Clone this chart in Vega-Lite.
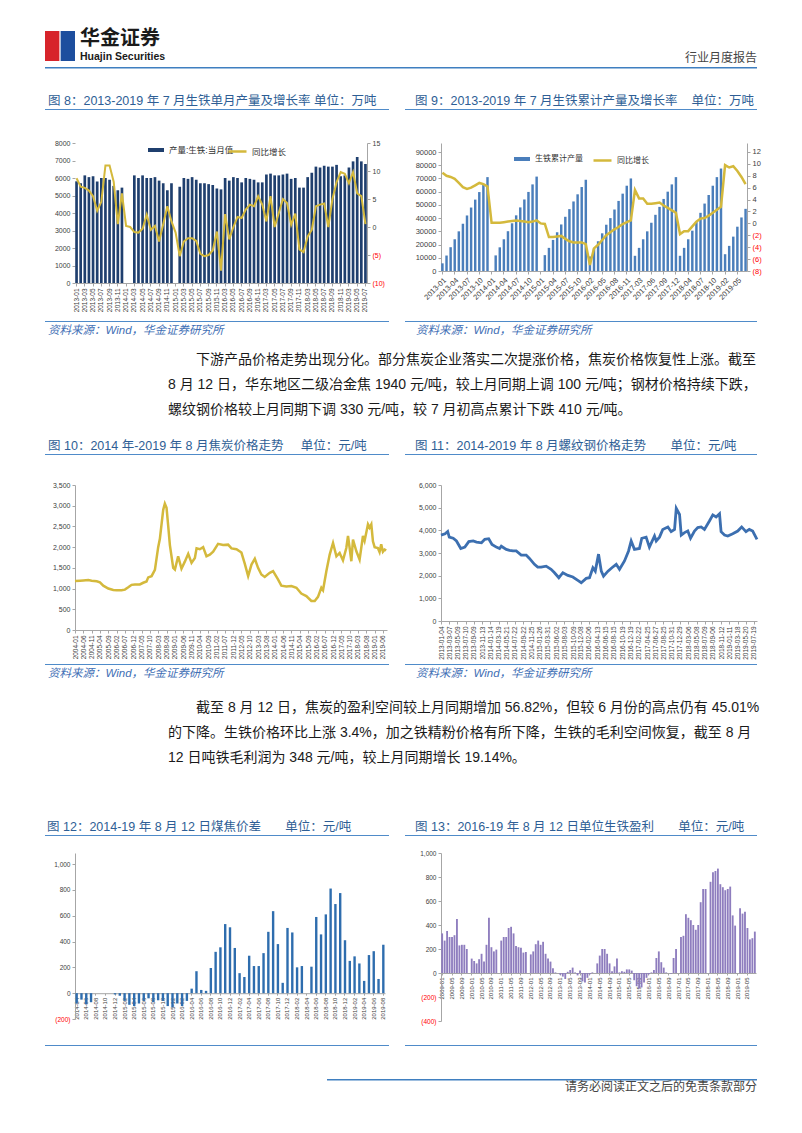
{
 "$schema": "https://vega.github.io/schema/vega-lite/v6.json",
 "padding": {"left": 45, "top": 25, "right": 5, "bottom": 5},
 "background": "white",
 "columns": 6,
 "spacing": 0,
 "bounds": "flush",
 "align": "each",
 "resolve": {"scale": {"color": "independent", "fill": "independent", "stroke": "independent"}, "legend": {"color": "independent", "fill": "independent", "stroke": "independent"}},
 "config": {
  "font": "Liberation Sans, Noto Sans CJK SC",
  "view": {"stroke": null},
  "axis": {"grid": false, "labelColor": "#404040", "domainColor": "#A6A6A6", "tickColor": "#A6A6A6", "labelOverlap": false, "labelFlush": false, "tickSize": 3, "labelFont": "Liberation Sans, Noto Sans CJK SC"},
  "title": {"font": "Liberation Sans, Noto Sans CJK SC", "fontWeight": "normal", "anchor": "start", "frame": "group", "color": "#2E5E95", "fontSize": 12.5, "limit": 760},
  "legend": {"labelFont": "Liberation Sans, Noto Sans CJK SC"}
 },
 "datasets": {
  "ds8": [
   {"m":"2013-01","p":5810,"g":8.7},{"m":"2013-02","p":5700,"g":7.2},{"m":"2013-03","p":6150,"g":7.0},{"m":"2013-04","p":6050,"g":6.5},{"m":"2013-05","p":6100,"g":5.5},{"m":"2013-06","p":5800,"g":2.9},{"m":"2013-07","p":6000,"g":4.5},{"m":"2013-08","p":6000,"g":11.0},{"m":"2013-09","p":5900,"g":11.0},{"m":"2013-10","p":5550,"g":8.1},{"m":"2013-11","p":5300,"g":0.5},{"m":"2013-12","p":5450,"g":6.0},
   {"m":"2014-01","p":0,"g":0.2},{"m":"2014-02","p":0,"g":0.0},{"m":"2014-03","p":6150,"g":-0.9},{"m":"2014-04","p":6000,"g":-1.0},{"m":"2014-05","p":6150,"g":-0.3},{"m":"2014-06","p":6000,"g":2.2},{"m":"2014-07","p":6000,"g":-0.5},{"m":"2014-08","p":6050,"g":0.2},{"m":"2014-09","p":5850,"g":-2.6},{"m":"2014-10","p":5700,"g":0.5},{"m":"2014-11","p":5300,"g":3.7},{"m":"2014-12","p":5700,"g":1.0},
   {"m":"2015-01","p":0,"g":-1.0},{"m":"2015-02","p":5500,"g":-5.2},{"m":"2015-03","p":6000,"g":-2.6},{"m":"2015-04","p":5950,"g":-2.0},{"m":"2015-05","p":6050,"g":-2.0},{"m":"2015-06","p":5900,"g":-2.5},{"m":"2015-07","p":5700,"g":-4.8},{"m":"2015-08","p":5700,"g":-5.2},{"m":"2015-09","p":5650,"g":-5.0},{"m":"2015-10","p":5600,"g":-4.2},{"m":"2015-11","p":5400,"g":-0.8},{"m":"2015-12","p":5350,"g":-7.8},
   {"m":"2016-03","p":6000,"g":2.3},{"m":"2016-04","p":5850,"g":-2.2},{"m":"2016-05","p":6050,"g":0.0},{"m":"2016-06","p":6000,"g":1.8},{"m":"2016-07","p":5750,"g":1.6},{"m":"2016-08","p":6000,"g":3.1},{"m":"2016-09","p":5950,"g":4.0},{"m":"2016-10","p":5900,"g":3.7},{"m":"2016-11","p":5750,"g":5.5},{"m":"2016-12","p":5750,"g":4.0},
   {"m":"2017-03","p":6200,"g":1.0},{"m":"2017-04","p":6250,"g":5.5},{"m":"2017-05","p":6150,"g":0.0},{"m":"2017-06","p":6150,"g":2.5},{"m":"2017-07","p":6200,"g":5.0},{"m":"2017-08","p":6250,"g":4.3},{"m":"2017-09","p":5950,"g":0.4},{"m":"2017-10","p":6000,"g":2.4},{"m":"2017-11","p":5450,"g":-4.0},{"m":"2017-12","p":5450,"g":-4.5},
   {"m":"2018-03","p":6050,"g":-1.7},{"m":"2018-04","p":6300,"g":-0.5},{"m":"2018-05","p":6650,"g":3.7},{"m":"2018-06","p":6600,"g":4.0},{"m":"2018-07","p":6700,"g":4.2},{"m":"2018-08","p":6650,"g":0.0},{"m":"2018-09","p":6650,"g":5.0},{"m":"2018-10","p":6750,"g":8.0},{"m":"2018-11","p":6100,"g":9.8},{"m":"2018-12","p":6150,"g":9.5},
   {"m":"2019-03","p":6600,"g":7.8},{"m":"2019-04","p":6950,"g":9.8},{"m":"2019-05","p":7200,"g":6.0},{"m":"2019-06","p":6950,"g":5.5},{"m":"2019-07","p":6800,"g":0.5}
  ],
  "ds9": [
   {"m":"2013-01","p":5800,"g":8.5},{"m":"2013-02","p":11700,"g":8.0},{"m":"2013-03","p":18000,"g":7.8},{"m":"2013-04","p":24000,"g":7.5},{"m":"2013-05","p":30000,"g":6.8},{"m":"2013-06","p":35800,"g":6.1},{"m":"2013-07","p":42000,"g":5.8},{"m":"2013-08","p":48000,"g":6.0},{"m":"2013-09","p":54000,"g":6.4},{"m":"2013-10","p":59700,"g":6.8},{"m":"2013-11","p":65000,"g":6.6},{"m":"2013-12","p":71000,"g":6.2},
   {"m":"2014-01","p":0,"g":0.1},{"m":"2014-02","p":11800,"g":0.1},{"m":"2014-03","p":17900,"g":0.1},{"m":"2014-04","p":24000,"g":0.2},{"m":"2014-05","p":30100,"g":0.3},{"m":"2014-06","p":36100,"g":0.4},{"m":"2014-07","p":42100,"g":0.5},{"m":"2014-08","p":48100,"g":0.4},{"m":"2014-09","p":54100,"g":0.3},{"m":"2014-10","p":59800,"g":0.2},{"m":"2014-11","p":65500,"g":0.3},{"m":"2014-12","p":71400,"g":0.5},
   {"m":"2015-01","p":0,"g":0.0},{"m":"2015-02","p":12000,"g":-0.1},{"m":"2015-03","p":17500,"g":-2.3},{"m":"2015-04","p":23500,"g":-2.3},{"m":"2015-05","p":29300,"g":-2.2},{"m":"2015-06","p":35200,"g":-2.1},{"m":"2015-07","p":41000,"g":-2.6},{"m":"2015-08","p":46800,"g":-3.0},{"m":"2015-09","p":52600,"g":-3.2},{"m":"2015-10","p":58000,"g":-3.2},{"m":"2015-11","p":63500,"g":-3.2},{"m":"2015-12","p":69000,"g":-3.5},
   {"m":"2016-02","p":11000,"g":-7.0},{"m":"2016-03","p":17000,"g":-4.2},{"m":"2016-04","p":22500,"g":-3.6},{"m":"2016-05","p":28500,"g":-2.8},{"m":"2016-06","p":35000,"g":-2.0},{"m":"2016-07","p":40000,"g":-1.5},{"m":"2016-08","p":46500,"g":-1.0},{"m":"2016-09","p":53000,"g":-0.6},{"m":"2016-10","p":58500,"g":-0.1},{"m":"2016-11","p":64500,"g":0.2},{"m":"2016-12","p":70000,"g":0.5},
   {"m":"2017-02","p":11500,"g":5.6},{"m":"2017-03","p":17500,"g":4.2},{"m":"2017-04","p":24000,"g":4.2},{"m":"2017-05","p":30000,"g":3.3},{"m":"2017-06","p":36500,"g":3.3},{"m":"2017-07","p":42500,"g":3.4},{"m":"2017-08","p":48500,"g":3.5},{"m":"2017-09","p":54500,"g":3.0},{"m":"2017-10","p":60000,"g":2.6},{"m":"2017-11","p":65500,"g":2.2},{"m":"2017-12","p":71000,"g":1.8},
   {"m":"2018-02","p":11500,"g":-1.8},{"m":"2018-03","p":17500,"g":-1.3},{"m":"2018-04","p":24000,"g":-1.3},{"m":"2018-05","p":30500,"g":-0.5},{"m":"2018-06","p":37000,"g":0.3},{"m":"2018-07","p":44000,"g":0.8},{"m":"2018-08","p":51000,"g":0.9},{"m":"2018-09","p":57500,"g":1.3},{"m":"2018-10","p":64500,"g":1.8},{"m":"2018-11","p":71000,"g":2.3},{"m":"2018-12","p":77500,"g":2.8},
   {"m":"2019-02","p":12700,"g":9.8},{"m":"2019-03","p":19000,"g":9.4},{"m":"2019-04","p":26000,"g":9.6},{"m":"2019-05","p":33500,"g":8.8},{"m":"2019-06","p":40500,"g":7.8},{"m":"2019-07","p":47000,"g":6.6}
  ],
  "ds10": [
   {"d":"2004-01-01","v":1180},{"d":"2004-04-01","v":1190},{"d":"2004-06-01","v":1195},{"d":"2004-09-01","v":1205},{"d":"2004-11-01","v":1190},{"d":"2005-02-01","v":1175},{"d":"2005-04-01","v":1150},{"d":"2005-06-01","v":1070},{"d":"2005-09-01","v":1000},{"d":"2005-12-01","v":965},{"d":"2006-02-01","v":960},{"d":"2006-05-01","v":960},{"d":"2006-07-01","v":975},{"d":"2006-09-01","v":1030},{"d":"2006-11-01","v":1090},{"d":"2007-01-01","v":1100},{"d":"2007-04-01","v":1100},{"d":"2007-06-01","v":1140},{"d":"2007-08-01","v":1170},{"d":"2007-09-01","v":1270},{"d":"2007-11-01","v":1300},{"d":"2008-01-01","v":1450},{"d":"2008-03-01","v":2000},{"d":"2008-04-01","v":2200},{"d":"2008-06-01","v":2900},{"d":"2008-07-01","v":3050},{"d":"2008-08-01","v":2950},{"d":"2008-09-01","v":2500},{"d":"2008-10-01","v":2050},{"d":"2008-12-01","v":1500},{"d":"2009-01-01","v":1460},{"d":"2009-03-01","v":1780},{"d":"2009-05-01","v":1480},{"d":"2009-07-01","v":1650},{"d":"2009-09-01","v":1840},{"d":"2009-11-01","v":1620},{"d":"2010-01-01","v":1740},{"d":"2010-02-01","v":1970},{"d":"2010-04-01","v":1950},{"d":"2010-06-01","v":2000},{"d":"2010-08-01","v":1780},{"d":"2010-10-01","v":1820},{"d":"2010-12-01","v":1890},{"d":"2011-03-01","v":2080},{"d":"2011-06-01","v":2050},{"d":"2011-09-01","v":2060},{"d":"2011-11-01","v":1970},{"d":"2012-02-01","v":1950},{"d":"2012-05-01","v":1870},{"d":"2012-07-01","v":1600},{"d":"2012-09-01","v":1300},{"d":"2012-11-01","v":1580},{"d":"2013-01-01","v":1720},{"d":"2013-03-01","v":1500},{"d":"2013-05-01","v":1340},{"d":"2013-07-01","v":1280},{"d":"2013-10-01","v":1380},{"d":"2013-12-01","v":1420},{"d":"2014-03-01","v":1220},{"d":"2014-05-01","v":1070},{"d":"2014-08-01","v":1050},{"d":"2014-11-01","v":1060},{"d":"2015-02-01","v":1020},{"d":"2015-05-01","v":880},{"d":"2015-08-01","v":820},{"d":"2015-11-01","v":700},{"d":"2016-01-01","v":700},{"d":"2016-03-01","v":800},{"d":"2016-05-01","v":1020},{"d":"2016-06-01","v":960},{"d":"2016-08-01","v":1420},{"d":"2016-10-01","v":1820},{"d":"2016-12-01","v":2100},{"d":"2017-02-01","v":1780},{"d":"2017-04-01","v":1860},{"d":"2017-06-01","v":1680},{"d":"2017-08-01","v":1980},{"d":"2017-09-01","v":2270},{"d":"2017-10-01","v":1980},{"d":"2017-11-01","v":1660},{"d":"2017-12-01","v":2180},{"d":"2018-02-01","v":1900},{"d":"2018-04-01","v":1700},{"d":"2018-06-01","v":2270},{"d":"2018-07-01","v":2150},{"d":"2018-09-01","v":2550},{"d":"2018-10-01","v":2470},{"d":"2018-11-01","v":2550},{"d":"2018-12-01","v":2140},{"d":"2019-01-01","v":2000},{"d":"2019-03-01","v":1980},{"d":"2019-04-01","v":1880},{"d":"2019-05-01","v":2070},{"d":"2019-06-01","v":1890},{"d":"2019-07-01","v":1940},{"d":"2019-08-01","v":1920}
  ],
  "ds11": [
   {"d":"2013-01-04","v":3790},{"d":"2013-02-04","v":3850},{"d":"2013-02-24","v":3950},{"d":"2013-03-08","v":3700},{"d":"2013-04-07","v":3650},{"d":"2013-05-02","v":3530},{"d":"2013-06-04","v":3200},{"d":"2013-07-05","v":3260},{"d":"2013-08-04","v":3500},{"d":"2013-09-07","v":3530},{"d":"2013-10-02","v":3480},{"d":"2013-11-09","v":3450},{"d":"2013-12-04","v":3600},{"d":"2014-01-03","v":3630},{"d":"2014-01-28","v":3380},{"d":"2014-03-02","v":3260},{"d":"2014-03-27","v":3200},{"d":"2014-04-09","v":3300},{"d":"2014-05-17","v":3160},{"d":"2014-06-11","v":3120},{"d":"2014-07-07","v":3090},{"d":"2014-08-01","v":3090},{"d":"2014-09-08","v":2910},{"d":"2014-10-16","v":2910},{"d":"2014-11-10","v":2760},{"d":"2014-12-18","v":2500},{"d":"2015-01-12","v":2380},{"d":"2015-02-07","v":2380},{"d":"2015-03-17","v":2420},{"d":"2015-04-24","v":2280},{"d":"2015-05-20","v":2130},{"d":"2015-06-22","v":1910},{"d":"2015-07-23","v":2130},{"d":"2015-08-30","v":2010},{"d":"2015-10-07","v":1940},{"d":"2015-11-14","v":1790},{"d":"2015-12-10","v":1690},{"d":"2016-01-17","v":1880},{"d":"2016-02-11","v":1910},{"d":"2016-03-08","v":2350},{"d":"2016-03-26","v":2200},{"d":"2016-04-20","v":2950},{"d":"2016-05-11","v":2200},{"d":"2016-05-28","v":1980},{"d":"2016-07-01","v":2200},{"d":"2016-07-31","v":2350},{"d":"2016-09-02","v":2500},{"d":"2016-09-27","v":2280},{"d":"2016-11-04","v":2650},{"d":"2016-12-05","v":3090},{"d":"2016-12-25","v":3530},{"d":"2017-01-19","v":3160},{"d":"2017-02-26","v":3200},{"d":"2017-03-16","v":3650},{"d":"2017-04-18","v":3700},{"d":"2017-05-13","v":3260},{"d":"2017-06-21","v":3750},{"d":"2017-07-04","v":3530},{"d":"2017-07-29","v":3700},{"d":"2017-08-23","v":4040},{"d":"2017-10-01","v":4150},{"d":"2017-10-26","v":3940},{"d":"2017-11-21","v":4040},{"d":"2017-12-04","v":4970},{"d":"2017-12-29","v":4700},{"d":"2018-01-11","v":3790},{"d":"2018-02-05","v":3900},{"d":"2018-03-02","v":3970},{"d":"2018-03-23","v":3650},{"d":"2018-04-22","v":3970},{"d":"2018-05-17","v":4120},{"d":"2018-06-12","v":4150},{"d":"2018-07-07","v":4040},{"d":"2018-08-14","v":4410},{"d":"2018-09-09","v":4680},{"d":"2018-10-04","v":4590},{"d":"2018-10-30","v":4730},{"d":"2018-11-11","v":3940},{"d":"2018-12-07","v":3790},{"d":"2019-01-01","v":3750},{"d":"2019-02-08","v":3850},{"d":"2019-03-18","v":3970},{"d":"2019-04-17","v":4150},{"d":"2019-05-20","v":3940},{"d":"2019-06-14","v":4040},{"d":"2019-07-10","v":3970},{"d":"2019-08-12","v":3600}
  ],
  "ds12": [
   {"m":"2014-04","v":-80},{"m":"2014-05","v":-50},{"m":"2014-06","v":-85},{"m":"2014-07","v":-70},{"m":"2014-08","v":0},{"m":"2014-09","v":0},{"m":"2014-10","v":0},{"m":"2014-11","v":0},{"m":"2014-12","v":-10},
   {"m":"2015-01","v":-20},{"m":"2015-02","v":-60},{"m":"2015-03","v":-90},{"m":"2015-04","v":-100},{"m":"2015-05","v":-80},{"m":"2015-06","v":-60},{"m":"2015-07","v":-40},{"m":"2015-08","v":-70},{"m":"2015-09","v":-55},{"m":"2015-10","v":-60},{"m":"2015-11","v":-100},{"m":"2015-12","v":-110},
   {"m":"2016-01","v":-80},{"m":"2016-02","v":-100},{"m":"2016-03","v":-60},{"m":"2016-04","v":35},{"m":"2016-05","v":170},{"m":"2016-06","v":25},{"m":"2016-07","v":18},{"m":"2016-08","v":195},{"m":"2016-09","v":320},{"m":"2016-10","v":355},{"m":"2016-11","v":535},{"m":"2016-12","v":510},
   {"m":"2017-01","v":350},{"m":"2017-02","v":155},{"m":"2017-03","v":125},{"m":"2017-04","v":290},{"m":"2017-05","v":210},{"m":"2017-06","v":210},{"m":"2017-07","v":310},{"m":"2017-08","v":475},{"m":"2017-09","v":635},{"m":"2017-10","v":380},{"m":"2017-11","v":80},{"m":"2017-12","v":505},
   {"m":"2018-01","v":470},{"m":"2018-02","v":200},{"m":"2018-03","v":210},{"m":"2018-04","v":0},{"m":"2018-05","v":205},{"m":"2018-06","v":590},{"m":"2018-07","v":455},{"m":"2018-08","v":610},{"m":"2018-09","v":810},{"m":"2018-10","v":690},{"m":"2018-11","v":775},{"m":"2018-12","v":410},
   {"m":"2019-01","v":250},{"m":"2019-02","v":285},{"m":"2019-03","v":230},{"m":"2019-04","v":95},{"m":"2019-05","v":295},{"m":"2019-06","v":325},{"m":"2019-07","v":110},{"m":"2019-08","v":375}
  ],
  "ds13": [
   {"m":"2009-01","v":330},{"m":"2009-02","v":270},{"m":"2009-03","v":350},{"m":"2009-04","v":300},{"m":"2009-05","v":300},{"m":"2009-06","v":315},{"m":"2009-07","v":450},{"m":"2009-08","v":230},{"m":"2009-09","v":235},{"m":"2009-10","v":235},{"m":"2009-11","v":200},{"m":"2009-12","v":0},
   {"m":"2010-01","v":120},{"m":"2010-02","v":100},{"m":"2010-03","v":80},{"m":"2010-04","v":115},{"m":"2010-05","v":160},{"m":"2010-06","v":95},{"m":"2010-07","v":235},{"m":"2010-08","v":460},{"m":"2010-09","v":215},{"m":"2010-10","v":180},{"m":"2010-11","v":195},{"m":"2010-12","v":0},
   {"m":"2011-01","v":270},{"m":"2011-02","v":300},{"m":"2011-03","v":300},{"m":"2011-04","v":375},{"m":"2011-05","v":385},{"m":"2011-06","v":330},{"m":"2011-07","v":225},{"m":"2011-08","v":215},{"m":"2011-09","v":210},{"m":"2011-10","v":170},{"m":"2011-11","v":175},{"m":"2011-12","v":0},
   {"m":"2012-01","v":155},{"m":"2012-02","v":180},{"m":"2012-03","v":240},{"m":"2012-04","v":270},{"m":"2012-05","v":235},{"m":"2012-06","v":260},{"m":"2012-07","v":160},{"m":"2012-08","v":120},{"m":"2012-09","v":95},{"m":"2012-10","v":40},{"m":"2012-11","v":5},{"m":"2012-12","v":0},
   {"m":"2013-01","v":-15},{"m":"2013-02","v":-30},{"m":"2013-03","v":-50},{"m":"2013-04","v":10},{"m":"2013-05","v":25},{"m":"2013-06","v":45},{"m":"2013-07","v":5},{"m":"2013-08","v":-20},{"m":"2013-09","v":20},{"m":"2013-10","v":-70},{"m":"2013-11","v":-80},{"m":"2013-12","v":-40},
   {"m":"2014-01","v":-10},{"m":"2014-02","v":5},{"m":"2014-03","v":0},{"m":"2014-04","v":80},{"m":"2014-05","v":145},{"m":"2014-06","v":200},{"m":"2014-07","v":200},{"m":"2014-08","v":160},{"m":"2014-09","v":80},{"m":"2014-10","v":15},{"m":"2014-11","v":55},{"m":"2014-12","v":120},
   {"m":"2015-01","v":5},{"m":"2015-02","v":15},{"m":"2015-03","v":10},{"m":"2015-04","v":30},{"m":"2015-05","v":30},{"m":"2015-06","v":20},{"m":"2015-07","v":-60},{"m":"2015-08","v":-110},{"m":"2015-09","v":-130},{"m":"2015-10","v":-120},{"m":"2015-11","v":-80},{"m":"2015-12","v":-40},
   {"m":"2016-01","v":-10},{"m":"2016-02","v":5},{"m":"2016-03","v":25},{"m":"2016-04","v":125},{"m":"2016-05","v":180},{"m":"2016-06","v":90},{"m":"2016-07","v":45},{"m":"2016-08","v":5},{"m":"2016-09","v":0},{"m":"2016-10","v":-5},{"m":"2016-11","v":125},{"m":"2016-12","v":200},
   {"m":"2017-01","v":0},{"m":"2017-02","v":300},{"m":"2017-03","v":310},{"m":"2017-04","v":490},{"m":"2017-05","v":460},{"m":"2017-06","v":440},{"m":"2017-07","v":400},{"m":"2017-08","v":360},{"m":"2017-09","v":400},{"m":"2017-10","v":590},{"m":"2017-11","v":700},{"m":"2017-12","v":700},
   {"m":"2018-01","v":0},{"m":"2018-02","v":760},{"m":"2018-03","v":840},{"m":"2018-04","v":850},{"m":"2018-05","v":870},{"m":"2018-06","v":740},{"m":"2018-07","v":715},{"m":"2018-08","v":690},{"m":"2018-09","v":700},{"m":"2018-10","v":720},{"m":"2018-11","v":480},{"m":"2018-12","v":395},
   {"m":"2019-01","v":0},{"m":"2019-02","v":540},{"m":"2019-03","v":495},{"m":"2019-04","v":510},{"m":"2019-05","v":375},{"m":"2019-06","v":280},{"m":"2019-07","v":290},{"m":"2019-08","v":345}
  ]
 },
 "concat": [
  {"width": 30, "height": 30, "data": {"values": [{"k": "a"}, {"k": "b"}]},
   "mark": {"type": "bar"},
   "encoding": {
    "x": {"field": "k", "type": "nominal", "axis": null, "scale": {"paddingInner": 0.08, "paddingOuter": 0}},
    "color": {"field": "k", "type": "nominal", "legend": null, "scale": {"range": ["#D7242B", "#1D4E9E"]}}
   },
   "title": {"text": "华金证券", "subtitle": "Huajin Securities", "dx": 35, "offset": -31, "fontSize": 20, "fontWeight": "bold", "color": "#1A1A1A", "font": "Noto Sans CJK SC", "subtitleFont": "Liberation Sans", "subtitleFontSize": 10.5, "subtitleFontWeight": "bold", "subtitleColor": "#1A1A1A", "subtitlePadding": 3}
  },
  {"width": 1, "height": 1, "data": {"values": [{}]}, "mark": {"type": "text", "text": ""}},
  {"width": 1, "height": 1, "data": {"values": [{}]}, "mark": {"type": "text", "text": ""}},
  {"width": 1, "height": 1, "data": {"values": [{}]}, "mark": {"type": "text", "text": ""}},
  {"width": 1, "height": 1, "data": {"values": [{}]}, "mark": {"type": "text", "text": ""}},
  {"width": 1, "height": 36, "data": {"values": [{}]}, "mark": {"type": "text", "text": ""}},

  {"width": 30, "height": 1.5, "data": {"values": [{}]}, "mark": {"type": "text", "text": ""}, "view": {"fill": "#3F7FC0", "stroke": null}},
  {"width": 314, "height": 1.5, "data": {"values": [{}]}, "mark": {"type": "text", "text": ""}, "view": {"fill": "#3F7FC0", "stroke": null}},
  {"width": 16, "height": 1.5, "data": {"values": [{}]}, "mark": {"type": "text", "text": ""}, "view": {"fill": "#3F7FC0", "stroke": null}},
  {"width": 36, "height": 1.5, "data": {"values": [{}]}, "mark": {"type": "text", "text": ""}, "view": {"fill": "#3F7FC0", "stroke": null}},
  {"width": 316, "height": 1.5, "data": {"values": [{}]}, "mark": {"type": "text", "text": ""}, "view": {"fill": "#3F7FC0", "stroke": null},
   "title": {"text": "行业月度报告", "anchor": "end", "offset": -3, "fontSize": 12, "color": "#444444"}},
  {"width": 1, "height": 42, "data": {"values": [{}]}, "mark": {"type": "text", "text": ""}},

  {"width": 30, "height": 1, "data": {"values": [{}]}, "mark": {"type": "text", "text": ""}, "view": {"fill": "#4F8BC9", "stroke": null},
   "title": {"text": "图 8：2013-2019 年 7 月生铁单月产量及增长率 单位：万吨", "dx": 3, "offset": -4}},
  {"width": 314, "height": 1, "data": {"values": [{}]}, "mark": {"type": "text", "text": ""}, "view": {"fill": "#4F8BC9", "stroke": null}},
  {"width": 1, "height": 1, "data": {"values": [{}]}, "mark": {"type": "text", "text": ""}},
  {"width": 36, "height": 1, "data": {"values": [{}]}, "mark": {"type": "text", "text": ""}, "view": {"fill": "#4F8BC9", "stroke": null},
   "title": {"text": "图 9：2013-2019 年 7 月生铁累计产量及增长率\u00a0\u00a0\u00a0\u00a0单位：万吨", "dx": 10, "offset": -4}},
  {"width": 316, "height": 1, "data": {"values": [{}]}, "mark": {"type": "text", "text": ""}, "view": {"fill": "#4F8BC9", "stroke": null}},
  {"width": 1, "height": 34, "data": {"values": [{}]}, "mark": {"type": "text", "text": ""}},

  {"width": 1, "height": 1, "data": {"values": [{}]}, "mark": {"type": "text", "text": ""}},
  {"width": 292, "height": 140, "data": {"name": "ds8"},
   "layer": [
    {"mark": {"type": "bar"},
     "encoding": {
      "x": {"field": "m", "type": "ordinal", "sort": null, "scale": {"paddingInner": 0.35, "paddingOuter": 0.05},
            "axis": {"title": null, "labelAngle": -90, "labelFontSize": 6.5, "labelPadding": 2,
                     "values": ["2013-01","2013-03","2013-05","2013-07","2013-09","2013-11","2014-01","2014-03","2014-05","2014-07","2014-09","2014-11","2015-01","2015-03","2015-05","2015-07","2015-09","2015-11","2016-03","2016-05","2016-07","2016-09","2016-11","2017-03","2017-05","2017-07","2017-09","2017-11","2018-03","2018-05","2018-07","2018-09","2018-11","2019-03","2019-05","2019-07"]}},
      "y": {"field": "p", "type": "quantitative", "scale": {"domain": [0, 8000], "nice": false},
            "axis": {"title": null, "values": [0,1000,2000,3000,4000,5000,6000,7000,8000], "format": "d", "labelFontSize": 7, "domain": false}},
      "fill": {"datum": "产量:生铁:当月值", "scale": {"range": ["#1F3F6E"]},
               "legend": {"orient": "none", "legendX": 72, "legendY": -2, "title": null, "symbolType": "M-1,-0.25H1V0.25H-1Z", "symbolSize": 256, "labelFontSize": 8.5, "labelColor": "#333333", "padding": 0}}
     }},
    {"mark": {"type": "line", "strokeWidth": 2},
     "encoding": {
      "x": {"field": "m", "type": "ordinal", "sort": null},
      "y": {"field": "g", "type": "quantitative", "scale": {"domain": [-10, 15], "nice": false},
            "axis": {"title": null, "orient": "right", "values": [-10,-5,0,5,10,15], "labelFontSize": 7,
                     "labelExpr": "datum.value < 0 ? '(' + format(-datum.value, 'd') + ')' : format(datum.value, 'd')",
                     "labelColor": {"condition": {"test": "datum.value < 0", "value": "#FF0000"}, "value": "#404040"}}},
      "stroke": {"datum": "同比增长", "scale": {"range": ["#D4B93C"]},
                 "legend": {"orient": "none", "legendX": 152, "legendY": -2, "title": null, "symbolType": "stroke", "symbolSize": 324, "symbolStrokeWidth": 2.5, "labelFontSize": 8.5, "labelColor": "#333333", "padding": 0}}
     }}
   ],
   "resolve": {"scale": {"y": "independent"}}
  },
  {"width": 1, "height": 1, "data": {"values": [{}]}, "mark": {"type": "text", "text": ""}},
  {"width": 1, "height": 1, "data": {"values": [{}]}, "mark": {"type": "text", "text": ""}},
  {"width": 306, "height": 128, "data": {"name": "ds9"},
   "layer": [
    {"mark": {"type": "bar"},
     "encoding": {
      "x": {"field": "m", "type": "ordinal", "sort": null, "scale": {"paddingInner": 0.4, "paddingOuter": 0.05},
            "axis": {"title": null, "labelAngle": -45, "labelFontSize": 7.5, "labelPadding": 2,
                     "values": ["2013-01","2013-04","2013-07","2013-10","2014-01","2014-04","2014-07","2014-10","2015-01","2015-04","2015-07","2015-10","2016-02","2016-05","2016-08","2016-11","2017-03","2017-06","2017-09","2017-12","2018-04","2018-07","2018-10","2019-02","2019-05"]}},
      "y": {"field": "p", "type": "quantitative", "scale": {"domain": [0, 96807], "nice": false},
            "axis": {"title": null, "values": [0,10000,20000,30000,40000,50000,60000,70000,80000,90000], "format": "d", "labelFontSize": 7.5}},
      "fill": {"datum": "生铁累计产量", "scale": {"range": ["#4A7EBB"]},
               "legend": {"orient": "none", "legendX": 72, "legendY": 7, "title": null, "symbolType": "M-1,-0.25H1V0.25H-1Z", "symbolSize": 256, "labelFontSize": 8, "labelColor": "#333333", "padding": 0}}
     }},
    {"mark": {"type": "line", "strokeWidth": 2.5},
     "encoding": {
      "x": {"field": "m", "type": "ordinal", "sort": null},
      "y": {"field": "g", "type": "quantitative", "scale": {"domain": [-8, 13.51], "nice": false},
            "axis": {"title": null, "orient": "right", "values": [-8,-6,-4,-2,0,2,4,6,8,10,12], "labelFontSize": 7.5,
                     "labelExpr": "datum.value < 0 ? '(' + format(-datum.value, 'd') + ')' : format(datum.value, 'd')",
                     "labelColor": {"condition": {"test": "datum.value < 0", "value": "#FF0000"}, "value": "#404040"}}},
      "stroke": {"datum": "同比增长", "scale": {"range": ["#D4B93C"]},
                 "legend": {"orient": "none", "legendX": 151, "legendY": 7, "title": null, "symbolType": "stroke", "symbolSize": 324, "symbolStrokeWidth": 2.5, "labelFontSize": 8, "labelColor": "#333333", "padding": 0}}
     }}
   ],
   "resolve": {"scale": {"y": "independent"}}
  },
  {"width": 1, "height": 178, "data": {"values": [{}]}, "mark": {"type": "text", "text": ""}},

  {"width": 30, "height": 1, "data": {"values": [{}]}, "mark": {"type": "text", "text": ""}, "view": {"fill": "#4F8BC9", "stroke": null},
   "title": {"text": "资料来源：Wind，华金证券研究所", "orient": "bottom", "baseline": "top", "dx": 3, "offset": -2, "fontStyle": "italic", "color": "#3F6FB5", "fontSize": 11.5}},
  {"width": 314, "height": 1, "data": {"values": [{}]}, "mark": {"type": "text", "text": ""}, "view": {"fill": "#4F8BC9", "stroke": null}},
  {"width": 1, "height": 1, "data": {"values": [{}]}, "mark": {"type": "text", "text": ""}},
  {"width": 36, "height": 1, "data": {"values": [{}]}, "mark": {"type": "text", "text": ""}, "view": {"fill": "#4F8BC9", "stroke": null},
   "title": {"text": "资料来源：Wind，华金证券研究所", "orient": "bottom", "baseline": "top", "dx": 11, "offset": -2, "fontStyle": "italic", "color": "#3F6FB5", "fontSize": 11.5}},
  {"width": 316, "height": 1, "data": {"values": [{}]}, "mark": {"type": "text", "text": ""}, "view": {"fill": "#4F8BC9", "stroke": null}},
  {"width": 1, "height": 26, "data": {"values": [{}]}, "mark": {"type": "text", "text": ""}},

  {"width": 30, "height": 1, "data": {"values": [{}]}, "mark": {"type": "text", "text": ""},
   "title": {"text": "下游产品价格走势出现分化。部分焦炭企业落实二次提涨价格，焦炭价格恢复性上涨。截至", "orient": "bottom", "baseline": "top", "dx": 151, "offset": 0, "fontSize": 14, "color": "#1A1A1A"}},
  {"width": 1, "height": 1, "data": {"values": [{}]}, "mark": {"type": "text", "text": ""}},
  {"width": 1, "height": 1, "data": {"values": [{}]}, "mark": {"type": "text", "text": ""}},
  {"width": 1, "height": 1, "data": {"values": [{}]}, "mark": {"type": "text", "text": ""}},
  {"width": 1, "height": 1, "data": {"values": [{}]}, "mark": {"type": "text", "text": ""}},
  {"width": 1, "height": 25, "data": {"values": [{}]}, "mark": {"type": "text", "text": ""}},

  {"width": 30, "height": 1, "data": {"values": [{}]}, "mark": {"type": "text", "text": ""},
   "title": {"text": ["8 月 12 日，华东地区二级冶金焦 1940 元/吨，较上月同期上调 100 元/吨；钢材价格持续下跌，", "螺纹钢价格较上月同期下调 330 元/吨，较 7 月初高点累计下跌 410 元/吨。"],
             "orient": "bottom", "baseline": "top", "dx": 123, "offset": 0, "lineHeight": 25, "fontSize": 14, "color": "#1A1A1A"}},
  {"width": 1, "height": 1, "data": {"values": [{}]}, "mark": {"type": "text", "text": ""}},
  {"width": 1, "height": 1, "data": {"values": [{}]}, "mark": {"type": "text", "text": ""}},
  {"width": 1, "height": 1, "data": {"values": [{}]}, "mark": {"type": "text", "text": ""}},
  {"width": 1, "height": 1, "data": {"values": [{}]}, "mark": {"type": "text", "text": ""}},
  {"width": 1, "height": 82, "data": {"values": [{}]}, "mark": {"type": "text", "text": ""}},

  {"width": 30, "height": 1, "data": {"values": [{}]}, "mark": {"type": "text", "text": ""}, "view": {"fill": "#4F8BC9", "stroke": null},
   "title": {"text": "图 10：2014 年-2019 年 8 月焦炭价格走势\u00a0\u00a0\u00a0\u00a0\u00a0单位：元/吨", "dx": 3, "offset": -4}},
  {"width": 314, "height": 1, "data": {"values": [{}]}, "mark": {"type": "text", "text": ""}, "view": {"fill": "#4F8BC9", "stroke": null}},
  {"width": 1, "height": 1, "data": {"values": [{}]}, "mark": {"type": "text", "text": ""}},
  {"width": 36, "height": 1, "data": {"values": [{}]}, "mark": {"type": "text", "text": ""}, "view": {"fill": "#4F8BC9", "stroke": null},
   "title": {"text": "图 11：2014-2019 年 8 月螺纹钢价格走势\u00a0\u00a0\u00a0\u00a0\u00a0\u00a0\u00a0单位：元/吨", "dx": 10, "offset": -4}},
  {"width": 316, "height": 1, "data": {"values": [{}]}, "mark": {"type": "text", "text": ""}, "view": {"fill": "#4F8BC9", "stroke": null}},
  {"width": 1, "height": 31, "data": {"values": [{}]}, "mark": {"type": "text", "text": ""}},

  {"width": 1, "height": 1, "data": {"values": [{}]}, "mark": {"type": "text", "text": ""}},
  {"width": 312, "height": 145, "data": {"name": "ds10"},
   "mark": {"type": "line", "strokeWidth": 2.5, "color": "#D4B93C"},
   "encoding": {
    "x": {"field": "d", "type": "temporal",
          "scale": {"type": "utc", "domain": [{"year":2004,"month":1,"date":1,"utc":true},{"year":2019,"month":8,"date":15,"utc":true}]},
          "axis": {"title": null, "format": "%Y-%m", "labelAngle": -90, "labelFontSize": 6.5, "labelPadding": 2,
                   "values": [{"year":2004,"month":1,"date":1,"utc":true},{"year":2004,"month":6,"date":1,"utc":true},{"year":2004,"month":11,"date":1,"utc":true},{"year":2005,"month":4,"date":1,"utc":true},{"year":2005,"month":9,"date":1,"utc":true},{"year":2006,"month":2,"date":1,"utc":true},{"year":2006,"month":7,"date":1,"utc":true},{"year":2006,"month":12,"date":1,"utc":true},{"year":2007,"month":5,"date":1,"utc":true},{"year":2007,"month":10,"date":1,"utc":true},{"year":2008,"month":3,"date":1,"utc":true},{"year":2008,"month":8,"date":1,"utc":true},{"year":2009,"month":1,"date":1,"utc":true},{"year":2009,"month":6,"date":1,"utc":true},{"year":2009,"month":11,"date":1,"utc":true},{"year":2010,"month":4,"date":1,"utc":true},{"year":2010,"month":9,"date":1,"utc":true},{"year":2011,"month":2,"date":1,"utc":true},{"year":2011,"month":7,"date":1,"utc":true},{"year":2011,"month":12,"date":1,"utc":true},{"year":2012,"month":5,"date":1,"utc":true},{"year":2012,"month":10,"date":1,"utc":true},{"year":2013,"month":3,"date":1,"utc":true},{"year":2013,"month":8,"date":1,"utc":true},{"year":2014,"month":1,"date":1,"utc":true},{"year":2014,"month":6,"date":1,"utc":true},{"year":2014,"month":11,"date":1,"utc":true},{"year":2015,"month":4,"date":1,"utc":true},{"year":2015,"month":9,"date":1,"utc":true},{"year":2016,"month":2,"date":1,"utc":true},{"year":2016,"month":7,"date":1,"utc":true},{"year":2016,"month":12,"date":1,"utc":true},{"year":2017,"month":5,"date":1,"utc":true},{"year":2017,"month":10,"date":1,"utc":true},{"year":2018,"month":3,"date":1,"utc":true},{"year":2018,"month":8,"date":1,"utc":true},{"year":2019,"month":1,"date":1,"utc":true},{"year":2019,"month":6,"date":1,"utc":true}]}},
    "y": {"field": "v", "type": "quantitative", "scale": {"domain": [0, 3500], "nice": false},
          "axis": {"title": null, "values": [0,500,1000,1500,2000,2500,3000,3500], "labelExpr": "format(datum.value, ',')", "labelFontSize": 7}}
   }
  },
  {"width": 1, "height": 1, "data": {"values": [{}]}, "mark": {"type": "text", "text": ""}},
  {"width": 1, "height": 1, "data": {"values": [{}]}, "mark": {"type": "text", "text": ""}},
  {"width": 316, "height": 136, "data": {"name": "ds11"},
   "mark": {"type": "line", "strokeWidth": 2.8, "color": "#3C6FB0"},
   "encoding": {
    "x": {"field": "d", "type": "temporal",
          "scale": {"type": "utc", "domain": [{"year":2013,"month":1,"date":4,"utc":true},{"year":2019,"month":8,"date":12,"utc":true}]},
          "axis": {"title": null, "format": "%Y-%m-%d", "labelAngle": -90, "labelFontSize": 6.5, "labelPadding": 2,
                   "values": [{"year":2013,"month":1,"date":4,"utc":true},{"year":2013,"month":3,"date":7,"utc":true},{"year":2013,"month":5,"date":9,"utc":true},{"year":2013,"month":7,"date":10,"utc":true},{"year":2013,"month":9,"date":9,"utc":true},{"year":2013,"month":11,"date":13,"utc":true},{"year":2014,"month":1,"date":14,"utc":true},{"year":2014,"month":3,"date":19,"utc":true},{"year":2014,"month":5,"date":21,"utc":true},{"year":2014,"month":7,"date":22,"utc":true},{"year":2014,"month":9,"date":22,"utc":true},{"year":2014,"month":11,"date":25,"utc":true},{"year":2015,"month":1,"date":26,"utc":true},{"year":2015,"month":3,"date":31,"utc":true},{"year":2015,"month":6,"date":2,"utc":true},{"year":2015,"month":8,"date":3,"utc":true},{"year":2015,"month":10,"date":9,"utc":true},{"year":2015,"month":12,"date":8,"utc":true},{"year":2016,"month":2,"date":6,"utc":true},{"year":2016,"month":4,"date":13,"utc":true},{"year":2016,"month":6,"date":15,"utc":true},{"year":2016,"month":8,"date":15,"utc":true},{"year":2016,"month":10,"date":19,"utc":true},{"year":2016,"month":12,"date":19,"utc":true},{"year":2017,"month":2,"date":22,"utc":true},{"year":2017,"month":4,"date":25,"utc":true},{"year":2017,"month":6,"date":27,"utc":true},{"year":2017,"month":8,"date":25,"utc":true},{"year":2017,"month":10,"date":31,"utc":true},{"year":2017,"month":12,"date":29,"utc":true},{"year":2018,"month":3,"date":6,"utc":true},{"year":2018,"month":5,"date":8,"utc":true},{"year":2018,"month":7,"date":9,"utc":true},{"year":2018,"month":9,"date":6,"utc":true},{"year":2018,"month":11,"date":12,"utc":true},{"year":2019,"month":1,"date":11,"utc":true},{"year":2019,"month":3,"date":18,"utc":true},{"year":2019,"month":5,"date":20,"utc":true},{"year":2019,"month":7,"date":19,"utc":true}]}},
    "y": {"field": "v", "type": "quantitative", "scale": {"domain": [0, 6000], "nice": false},
          "axis": {"title": null, "values": [0,1000,2000,3000,4000,5000,6000], "labelExpr": "format(datum.value, ',')", "labelFontSize": 7}}
   }
  },
  {"width": 1, "height": 179, "data": {"values": [{}]}, "mark": {"type": "text", "text": ""}},

  {"width": 30, "height": 1, "data": {"values": [{}]}, "mark": {"type": "text", "text": ""}, "view": {"fill": "#4F8BC9", "stroke": null},
   "title": {"text": "资料来源：Wind，华金证券研究所", "orient": "bottom", "baseline": "top", "dx": 3, "offset": -2, "fontStyle": "italic", "color": "#3F6FB5", "fontSize": 11.5}},
  {"width": 314, "height": 1, "data": {"values": [{}]}, "mark": {"type": "text", "text": ""}, "view": {"fill": "#4F8BC9", "stroke": null}},
  {"width": 1, "height": 1, "data": {"values": [{}]}, "mark": {"type": "text", "text": ""}},
  {"width": 36, "height": 1, "data": {"values": [{}]}, "mark": {"type": "text", "text": ""}, "view": {"fill": "#4F8BC9", "stroke": null},
   "title": {"text": "资料来源：Wind，华金证券研究所", "orient": "bottom", "baseline": "top", "dx": 11, "offset": -2, "fontStyle": "italic", "color": "#3F6FB5", "fontSize": 11.5}},
  {"width": 316, "height": 1, "data": {"values": [{}]}, "mark": {"type": "text", "text": ""}, "view": {"fill": "#4F8BC9", "stroke": null}},
  {"width": 1, "height": 31, "data": {"values": [{}]}, "mark": {"type": "text", "text": ""}},

  {"width": 30, "height": 1, "data": {"values": [{}]}, "mark": {"type": "text", "text": ""},
   "title": {"text": "截至 8 月 12 日，焦炭的盈利空间较上月同期增加 56.82%，但较 6 月份的高点仍有 45.01%", "orient": "bottom", "baseline": "top", "dx": 151, "offset": 0, "fontSize": 14, "color": "#1A1A1A"}},
  {"width": 1, "height": 1, "data": {"values": [{}]}, "mark": {"type": "text", "text": ""}},
  {"width": 1, "height": 1, "data": {"values": [{}]}, "mark": {"type": "text", "text": ""}},
  {"width": 1, "height": 1, "data": {"values": [{}]}, "mark": {"type": "text", "text": ""}},
  {"width": 1, "height": 1, "data": {"values": [{}]}, "mark": {"type": "text", "text": ""}},
  {"width": 1, "height": 25, "data": {"values": [{}]}, "mark": {"type": "text", "text": ""}},

  {"width": 30, "height": 1, "data": {"values": [{}]}, "mark": {"type": "text", "text": ""},
   "title": {"text": ["的下降。生铁价格环比上涨 3.4%，加之铁精粉价格有所下降，生铁的毛利空间恢复，截至 8 月", "12 日吨铁毛利润为 348 元/吨，较上月同期增长 19.14%。"],
             "orient": "bottom", "baseline": "top", "dx": 123, "offset": 0, "lineHeight": 25, "fontSize": 14, "color": "#1A1A1A"}},
  {"width": 1, "height": 1, "data": {"values": [{}]}, "mark": {"type": "text", "text": ""}},
  {"width": 1, "height": 1, "data": {"values": [{}]}, "mark": {"type": "text", "text": ""}},
  {"width": 1, "height": 1, "data": {"values": [{}]}, "mark": {"type": "text", "text": ""}},
  {"width": 1, "height": 1, "data": {"values": [{}]}, "mark": {"type": "text", "text": ""}},
  {"width": 1, "height": 115, "data": {"values": [{}]}, "mark": {"type": "text", "text": ""}},

  {"width": 30, "height": 1, "data": {"values": [{}]}, "mark": {"type": "text", "text": ""}, "view": {"fill": "#4F8BC9", "stroke": null},
   "title": {"text": "图 12：2014-19 年 8 月 12 日煤焦价差\u00a0\u00a0\u00a0\u00a0\u00a0\u00a0\u00a0单位：元/吨", "dx": 2, "offset": -4}},
  {"width": 314, "height": 1, "data": {"values": [{}]}, "mark": {"type": "text", "text": ""}, "view": {"fill": "#4F8BC9", "stroke": null}},
  {"width": 1, "height": 1, "data": {"values": [{}]}, "mark": {"type": "text", "text": ""}},
  {"width": 36, "height": 1, "data": {"values": [{}]}, "mark": {"type": "text", "text": ""}, "view": {"fill": "#4F8BC9", "stroke": null},
   "title": {"text": "图 13：2016-19 年 8 月 12 日单位生铁盈利\u00a0\u00a0\u00a0\u00a0\u00a0\u00a0\u00a0单位：元/吨", "dx": 10, "offset": -4}},
  {"width": 316, "height": 1, "data": {"values": [{}]}, "mark": {"type": "text", "text": ""}, "view": {"fill": "#4F8BC9", "stroke": null}},
  {"width": 1, "height": 18, "data": {"values": [{}]}, "mark": {"type": "text", "text": ""}},

  {"width": 1, "height": 1, "data": {"values": [{}]}, "mark": {"type": "text", "text": ""}},
  {"width": 310, "height": 166, "data": {"name": "ds12"},
   "mark": {"type": "bar", "color": "#2E6DAE"},
   "encoding": {
    "x": {"field": "m", "type": "ordinal", "sort": null, "scale": {"paddingInner": 0.5, "paddingOuter": 0.1},
          "axis": {"title": null, "labelAngle": -90, "labelFontSize": 6, "labelPadding": 2, "offset": -25.8, "tickSize": 2,
                   "values": ["2014-04","2014-06","2014-08","2014-10","2014-12","2015-02","2015-04","2015-06","2015-08","2015-10","2015-12","2016-02","2016-04","2016-06","2016-08","2016-10","2016-12","2017-02","2017-04","2017-06","2017-08","2017-10","2017-12","2018-02","2018-04","2018-06","2018-08","2018-10","2018-12","2019-02","2019-04","2019-06","2019-08"]}},
    "y": {"field": "v", "type": "quantitative", "scale": {"domain": [-200, 1085.2], "nice": false},
          "axis": {"title": null, "values": [-200,0,200,400,600,800,1000], "labelFontSize": 6.5,
                   "labelExpr": "datum.value < 0 ? '(' + format(-datum.value, ',') + ')' : format(datum.value, ',')",
                   "labelColor": {"condition": {"test": "datum.value < 0", "value": "#FF0000"}, "value": "#404040"}}}
   }
  },
  {"width": 1, "height": 1, "data": {"values": [{}]}, "mark": {"type": "text", "text": ""}},
  {"width": 1, "height": 1, "data": {"values": [{}]}, "mark": {"type": "text", "text": ""}},
  {"width": 315, "height": 168, "data": {"name": "ds13"},
   "mark": {"type": "bar", "color": "#8E7DBE"},
   "encoding": {
    "x": {"field": "m", "type": "ordinal", "sort": null, "scale": {"paddingInner": 0.25, "paddingOuter": 0.1},
          "axis": {"title": null, "labelAngle": -90, "labelFontSize": 6, "labelPadding": 2, "offset": -48, "tickSize": 2,
                   "values": ["2009-01","2009-05","2009-09","2010-01","2010-05","2010-09","2011-01","2011-05","2011-09","2012-01","2012-05","2012-09","2013-01","2013-05","2013-09","2014-01","2014-05","2014-09","2015-01","2015-05","2015-09","2016-01","2016-05","2016-09","2017-01","2017-05","2017-09","2018-01","2018-05","2018-09","2019-01","2019-05"]}},
    "y": {"field": "v", "type": "quantitative", "scale": {"domain": [-400, 1000], "nice": false},
          "axis": {"title": null, "values": [-400,-200,0,200,400,600,800,1000], "labelFontSize": 6.5,
                   "labelExpr": "datum.value < 0 ? '(' + format(-datum.value, ',') + ')' : format(datum.value, ',')",
                   "labelColor": {"condition": {"test": "datum.value < 0", "value": "#FF0000"}, "value": "#404040"}}}
   }
  },
  {"width": 1, "height": 192, "data": {"values": [{}]}, "mark": {"type": "text", "text": ""}},

  {"width": 30, "height": 1, "data": {"values": [{}]}, "mark": {"type": "text", "text": ""}, "view": {"fill": "#4F8BC9", "stroke": null}},
  {"width": 314, "height": 1, "data": {"values": [{}]}, "mark": {"type": "text", "text": ""}, "view": {"fill": "#4F8BC9", "stroke": null}},
  {"width": 1, "height": 1, "data": {"values": [{}]}, "mark": {"type": "text", "text": ""}},
  {"width": 36, "height": 1, "data": {"values": [{}]}, "mark": {"type": "text", "text": ""}, "view": {"fill": "#4F8BC9", "stroke": null}},
  {"width": 316, "height": 1, "data": {"values": [{}]}, "mark": {"type": "text", "text": ""}, "view": {"fill": "#4F8BC9", "stroke": null}},
  {"width": 1, "height": 34, "data": {"values": [{}]}, "mark": {"type": "text", "text": ""}},

  {"width": 1, "height": 1, "data": {"values": [{}]}, "mark": {"type": "text", "text": ""}},
  {"width": 314, "height": 1.5, "data": {"values": [{}]}, "mark": {"type": "text", "text": ""},
   "view": {"fill": {"gradient": "linear", "stops": [{"offset": 0, "color": "rgba(255,255,255,0)"}, {"offset": 0.8025, "color": "rgba(255,255,255,0)"}, {"offset": 0.8026, "color": "#3F7FC0"}, {"offset": 1, "color": "#3F7FC0"}]}, "stroke": null}},
  {"width": 16, "height": 1.5, "data": {"values": [{}]}, "mark": {"type": "text", "text": ""}, "view": {"fill": "#3F7FC0", "stroke": null}},
  {"width": 36, "height": 1.5, "data": {"values": [{}]}, "mark": {"type": "text", "text": ""}, "view": {"fill": "#3F7FC0", "stroke": null}},
  {"width": 316, "height": 1.5, "data": {"values": [{}]}, "mark": {"type": "text", "text": ""}, "view": {"fill": "#3F7FC0", "stroke": null},
   "title": {"text": "请务必阅读正文之后的免责条款部分", "orient": "bottom", "baseline": "top", "anchor": "end", "offset": -3, "fontSize": 12, "color": "#444444"}},
  {"width": 1, "height": 1, "data": {"values": [{}]}, "mark": {"type": "text", "text": ""}}
 ]
}
